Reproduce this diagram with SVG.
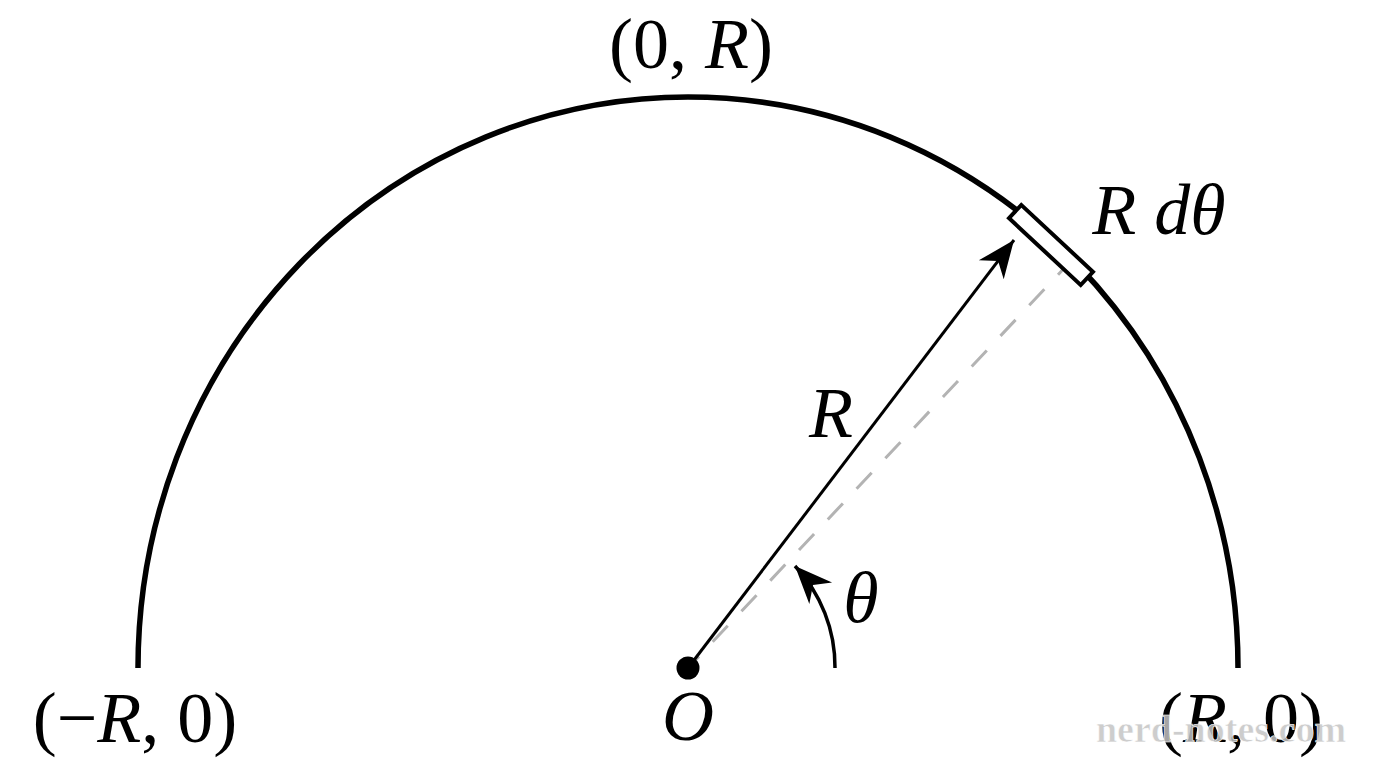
<svg xmlns="http://www.w3.org/2000/svg" width="1376" height="768" viewBox="0 0 1376 768">
<style>
.m{font-family:"Liberation Serif","DejaVu Serif",serif;font-size:72px;fill:#000}
.i{font-style:italic}
.wm{font-family:"Liberation Serif","DejaVu Serif",serif;font-size:38px;font-weight:bold;fill:#c4c4c4;fill-opacity:0.85;stroke:#ffffff;stroke-width:0.6}
</style>
<defs>
<marker id="ah" markerUnits="userSpaceOnUse" markerWidth="50" markerHeight="50" viewBox="-35 -20 40 40" refX="0" refY="0" orient="auto">
<path d="M0,0 L-30,-12.5 L-21,0 L-30,12.5 Z" fill="#000"/>
</marker>
</defs>
<rect width="1376" height="768" fill="#fff"/>
<g id="connectors">
<path id="semicircle" d="M 138 668 A 550 571 0 0 1 1238 668" fill="none" stroke="#000" stroke-width="5.5"/>
<line id="dashed" x1="688" y1="668" x2="1070" y2="262" stroke="#b3b3b3" stroke-width="3" stroke-dasharray="22 20" stroke-dashoffset="6"/>
<line id="radius" x1="688" y1="668" x2="1014" y2="240" stroke="#000" stroke-width="3" marker-end="url(#ah)"/>
<path id="angle" d="M 835 668 A 147 147 0 0 0 795 566" fill="none" stroke="#000" stroke-width="3.5" marker-end="url(#ah)"/>
</g>
<g id="element">
<rect x="-49" y="-9" width="98" height="18" transform="translate(1051 245) rotate(43)" fill="#fff" stroke="#000" stroke-width="4"/>
</g>
<g id="origin">
<circle cx="688" cy="668" r="11.5" fill="#000"/>
<text class="m i" x="688" y="740" text-anchor="middle">O</text>
</g>
<g id="labels">
<text class="m" x="691" y="68" text-anchor="middle">(0, <tspan class="i">R</tspan>)</text>
<text class="m" x="135" y="742" text-anchor="middle">(−<tspan class="i">R</tspan>, 0)</text>
<text class="m" x="1241" y="742" text-anchor="middle">(<tspan class="i">R</tspan>, 0)</text>
<text class="m i" x="831" y="437" text-anchor="middle">R</text>
<text class="m i" x="1159" y="234" text-anchor="middle">R dθ</text>
<text class="m i" x="861" y="622" text-anchor="middle">θ</text>
</g>
<text class="wm" x="1221" y="742" text-anchor="middle">nerd-notes.com</text>
</svg>
